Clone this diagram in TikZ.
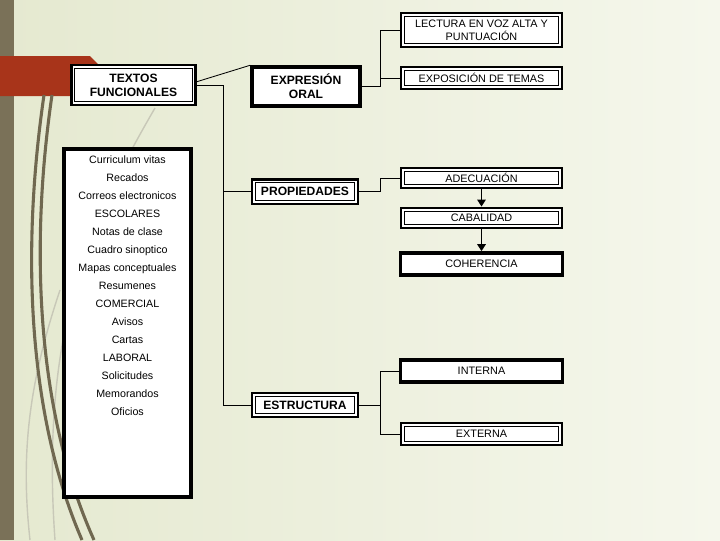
\documentclass[tikz,border=0pt]{standalone}
\usepackage{fontspec}
\setmainfont{Liberation Sans}
\usetikzlibrary{arrows.meta}
\definecolor{fondoA}{RGB}{229,233,208}
\definecolor{fondoB}{RGB}{245,247,236}
\definecolor{barra}{RGB}{122,113,88}
\definecolor{rojo}{RGB}{168,52,26}
\definecolor{trazo}{RGB}{112,104,80}
\definecolor{trazoclaro}{RGB}{200,200,184}
\begin{document}
\begin{tikzpicture}[x=0.025cm, y=-0.025cm,
  caja/.style={draw, fill=white, line width=2pt, inner sep=1pt, align=center,
    font=\fontsize{7.7}{9}\selectfont},
  cajad/.style={caja, path picture={\draw[line width=0.5pt]
    ([shift={(2.3pt,-2.3pt)}]path picture bounding box.north west) rectangle
    ([shift={(-2.3pt,2.3pt)}]path picture bounding box.south east);}},
  gruesa/.style={caja, line width=2.6pt},
  titulo/.style={font=\fontsize{8.6}{10}\selectfont\bfseries},
  elemento/.style={font=\fontsize{7.6}{9}\selectfont, inner sep=0pt,
    text height=1.5ex, text depth=0.4ex},
  linea/.style={line width=0.6pt},
  flecha/.style={line width=1.4pt, -{Triangle[width=6pt,length=5pt]}}]
  \useasboundingbox (0,0) rectangle (720,540);
  \shade[left color=fondoA, right color=fondoB] (0,0) rectangle (720,540);
  \fill[barra] (0,0) rectangle (14,540);
  \fill[rojo] (0,56) -- (90,56) -- (100,66) -- (100,96) -- (0,96) -- cycle;
  \draw[trazoclaro, line width=1pt] (155,108) .. controls (90,220) and (40,330) .. (55,540);
  \draw[trazoclaro, line width=1pt] (60,290) .. controls (30,380) and (20,450) .. (30,540);
  \draw[trazo, line width=2.2pt] (44,95) .. controls (20,260) and (30,420) .. (82,540);
  \draw[trazo, line width=2.2pt] (52,95) .. controls (28,260) and (40,420) .. (94,540);

  \node[cajad, titulo, minimum width=3.1cm, minimum height=1cm] (textos) at (133.5,85) {TEXTOS\\FUNCIONALES};
  \node[gruesa, titulo, minimum width=2.7cm, minimum height=0.97cm] (expr) at (306,86.5) {EXPRESIÓN\\ORAL};
  \node[cajad, minimum width=4.02cm, minimum height=0.85cm] (lectura) at (481.5,30) {LECTURA EN VOZ ALTA Y\\PUNTUACIÓN};
  \node[cajad, minimum width=4.02cm, minimum height=0.55cm] (exposicion) at (481.5,78) {EXPOSICIÓN DE TEMAS};
  \node[cajad, titulo, minimum width=2.65cm, minimum height=0.62cm] (propiedades) at (305,191.5) {PROPIEDADES};
  \node[cajad, minimum width=4.02cm, minimum height=0.5cm] (adecuacion) at (481.5,178) {ADECUACIÓN};
  \node[cajad, minimum width=4.02cm, minimum height=0.5cm] (cabalidad) at (481.5,218) {CABALIDAD};
  \node[gruesa, minimum width=4.05cm, minimum height=0.55cm] (coherencia) at (481.5,264) {COHERENCIA};
  \node[gruesa, minimum width=4.05cm, minimum height=0.55cm] (interna) at (481.5,371) {INTERNA};
  \node[cajad, minimum width=4.02cm, minimum height=0.55cm] (externa) at (481.5,434) {EXTERNA};
  \node[cajad, titulo, minimum width=2.65cm, minimum height=0.6cm] (estructura) at (305,405) {ESTRUCTURA};
  \node[gruesa, minimum width=3.17cm, minimum height=8.7cm] (lista) at (127.5,323) {};
  \foreach \t [count=\i] in {Curriculum vitas, Recados, Correos electronicos, ESCOLARES,
      Notas de clase, Cuadro sinoptico, Mapas conceptuales, Resumenes, COMERCIAL,
      Avisos, Cartas, LABORAL, Solicitudes, Memorandos, Oficios}
    \node[elemento] (item\i) at (127.5,{159.5+18*(\i-1)}) {\t};

  \coordinate (tronco) at (223,85);
  \coordinate (ramal) at (380,87);
  \draw[linea] (textos.3) -- (expr.north west);
  \draw[linea] (textos.east) -| (tronco |- estructura.west) -- (estructura.west);
  \draw[linea] (tronco |- propiedades.west) -- (propiedades.west);
  \draw[linea] (expr.east) -- (ramal |- expr.east) |- (lectura.west);
  \draw[linea] (ramal |- exposicion.west) -- (exposicion.west);
  \draw[linea] (propiedades.east) -- (ramal |- propiedades.east) |- (adecuacion.west);
  \draw[linea] (estructura.east) -- (ramal |- estructura.east);
  \draw[linea] (interna.west) -| (ramal |- externa.west) -- (externa.west);
  \draw[flecha] (adecuacion.south) -- (cabalidad.north);
  \draw[flecha] (cabalidad.south) -- (coherencia.north);
\end{tikzpicture}
\end{document}
